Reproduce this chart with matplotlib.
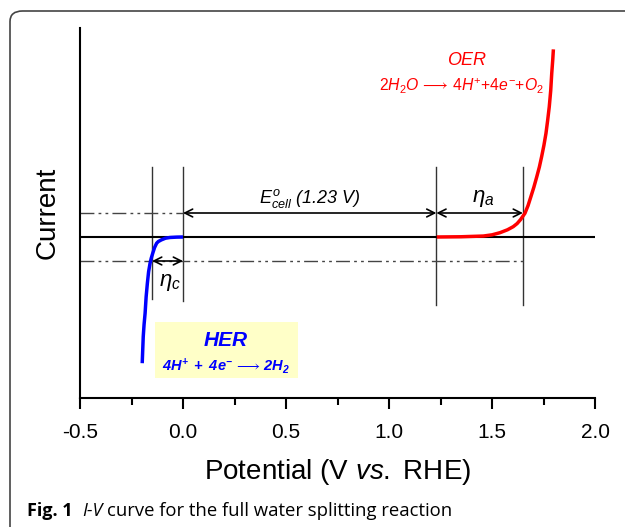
import matplotlib
matplotlib.use("Agg")
import matplotlib.pyplot as plt
from matplotlib.patches import FancyBboxPatch, Rectangle
from matplotlib.ticker import MultipleLocator

plt.rcParams['font.family'] = ['Liberation Sans', 'DejaVu Sans']
plt.rcParams['mathtext.fontset'] = 'custom'
plt.rcParams['mathtext.rm'] = 'Liberation Sans'
plt.rcParams['mathtext.it'] = 'Liberation Sans:italic'
plt.rcParams['mathtext.bf'] = 'Liberation Sans:bold:italic'

# ---- data ----
her_v = [0.0, -0.03, -0.063, -0.085, -0.105, -0.12, -0.128, -0.138, -0.147, -0.154, -0.160,
         -0.167, -0.173, -0.179, -0.184, -0.189, -0.193, -0.198]
her_i = [0.0, -0.005, -0.02, -0.05, -0.12, -0.19, -0.26, -0.44, -0.68, -0.88, -1.10,
         -1.45, -1.93, -2.5, -3.18, -3.65, -4.15, -5.26]
oer_v = [1.232, 1.35, 1.458, 1.50, 1.539, 1.575, 1.603, 1.622, 1.639, 1.660, 1.675, 1.688,
         1.703, 1.717, 1.730, 1.741, 1.752, 1.762, 1.770, 1.778, 1.785, 1.790, 1.795, 1.798]
oer_i = [0.0, 0.01, 0.04, 0.09, 0.18, 0.30, 0.43, 0.56, 0.73, 0.99, 1.31, 1.66,
         2.07, 2.50, 2.92, 3.35, 3.82, 4.32, 4.85, 5.43, 6.1, 6.82, 7.4, 7.82]
eta_c_start = -0.15
e_her = 0.0
e_oer = 1.23
eta_a_end = 1.65
xticks = [-0.5, 0.0, 0.5, 1.0, 1.5, 2.0]
xtick_labels = ['-0.5', '0.0', '0.5', '1.0', '1.5', '2.0']

fig = plt.figure(figsize=(6.25, 5.27), dpi=100)

# rounded frame
frame = FancyBboxPatch((10/625, -0.2), 1.2, 1 - 11/527 + 0.2,
                       boxstyle="round,pad=0,rounding_size=0.02",
                       transform=fig.transFigure, fill=False,
                       edgecolor='#444444', linewidth=1.2, clip_on=False)
fig.patches.append(frame)

ax = fig.add_axes([80/625, 1 - 398/527, 515/625, 370/527])
ax.set_xlim(-0.5, 2.0)
ax.set_ylim(-6.71, 8.71)
for s in ['top', 'right']:
    ax.spines[s].set_visible(False)
ax.spines['left'].set_linewidth(1.5)
ax.spines['bottom'].set_linewidth(1.5)
ax.set_yticks([])
ax.set_xticks(xticks)
ax.set_xticklabels(xtick_labels, fontsize=15)
ax.xaxis.set_minor_locator(MultipleLocator(0.25))
ax.tick_params(axis='x', which='major', length=8, width=1.5, direction='out', pad=10)
ax.tick_params(axis='x', which='minor', length=5, width=1.5, direction='out')

# zero line
ax.plot([-0.5, 2.0], [0, 0], color='black', lw=1.5, zorder=3)

# vertical guide lines
for xv, yb in [(eta_c_start, -2.6), (e_her, -2.65), (e_oer, -2.85), (eta_a_end, -2.85)]:
    ax.plot([xv, xv], [2.92, yb], color='#333333', lw=1.0, zorder=2)

dd = (10, 3, 2, 3, 2, 3)
ax.plot([-0.5, e_her], [1, 1], color='#444444', lw=1.0, dashes=dd, zorder=2)
ax.plot([-0.5, eta_a_end], [-1, -1], color='#444444', lw=1.0, dashes=dd, zorder=2)

arrow_kw = dict(arrowstyle='<->', color='black', lw=1.2, mutation_scale=14, shrinkA=0, shrinkB=0)
ax.annotate('', xy=(e_her, 1), xytext=(e_oer, 1), arrowprops=arrow_kw)
ax.annotate('', xy=(e_oer, 1), xytext=(eta_a_end, 1), arrowprops=arrow_kw)
ax.annotate('', xy=(eta_c_start, -1), xytext=(e_her, -1), arrowprops=arrow_kw)

# curves
ax.plot(her_v, her_i, color='#0000ff', lw=2.5, zorder=4, solid_capstyle='butt', solid_joinstyle='round')
ax.plot(oer_v, oer_i, color='#ff0000', lw=2.5, zorder=4, solid_capstyle='butt', solid_joinstyle='round')

# labels
ax.text(0.617, 1.62, r'$E^{o}_{cell}$ (1.23 V)', fontsize=13, style='italic', ha='center', va='center')
ax.text(1.456, 1.6, r'$\eta_{a}$', fontsize=16, ha='center', va='center')
ax.text(-0.063, -1.9, r'$\eta_{c}$', fontsize=16, ha='center', va='center')

ax.text(1.374, 7.375, 'OER', color='#ff0000', fontsize=13, style='italic', ha='center', va='center')
ax.text(1.35, 6.29, r'$2H_2O\,\longrightarrow\,4H^{+}{+}4e^{-}{+}O_2$', color='#ff0000', fontsize=11.3,
        ha='center', va='center')

ax.add_patch(Rectangle((-0.136, -5.875), 0.694, 2.335, facecolor='#ffffc8', edgecolor='none', zorder=1))
ax.text(0.209, -4.33, 'HER', color='#0000ff', fontsize=15, weight='bold', style='italic',
        ha='center', va='center')
ax.text(0.209, -5.375, r'$\mathbf{4H^{+}\ +\ 4e^{-}}\,\longrightarrow\,\mathbf{2H_2}$', color='#0000ff',
        fontsize=10.5, ha='center', va='center')

ax.set_ylabel('Current', fontsize=20, labelpad=14)
ax.set_xlabel(r'Potential (V $\mathit{vs.}$ RHE)', fontsize=20, labelpad=11)

# caption
fig.canvas.draw()
r = fig.canvas.get_renderer()
cx, cy = 27/625, 1 - 511/527
cap_font = ['Open Sans', 'DejaVu Sans']
t1 = fig.text(cx, cy, 'Fig. 1', fontsize=13, weight='bold', family=cap_font, va='center')
bb = t1.get_window_extent(r)
x2 = cx + (bb.width + 10) / fig.bbox.width
t2 = fig.text(x2, cy, 'I-V', fontsize=13, style='italic', family=cap_font, va='center')
bb2 = t2.get_window_extent(r)
x3 = x2 + (bb2.width + 4) / fig.bbox.width
fig.text(x3, cy, 'curve for the full water splitting reaction', fontsize=13.3,
         family=cap_font, va='center')

fig.savefig('out.png', dpi=100)
